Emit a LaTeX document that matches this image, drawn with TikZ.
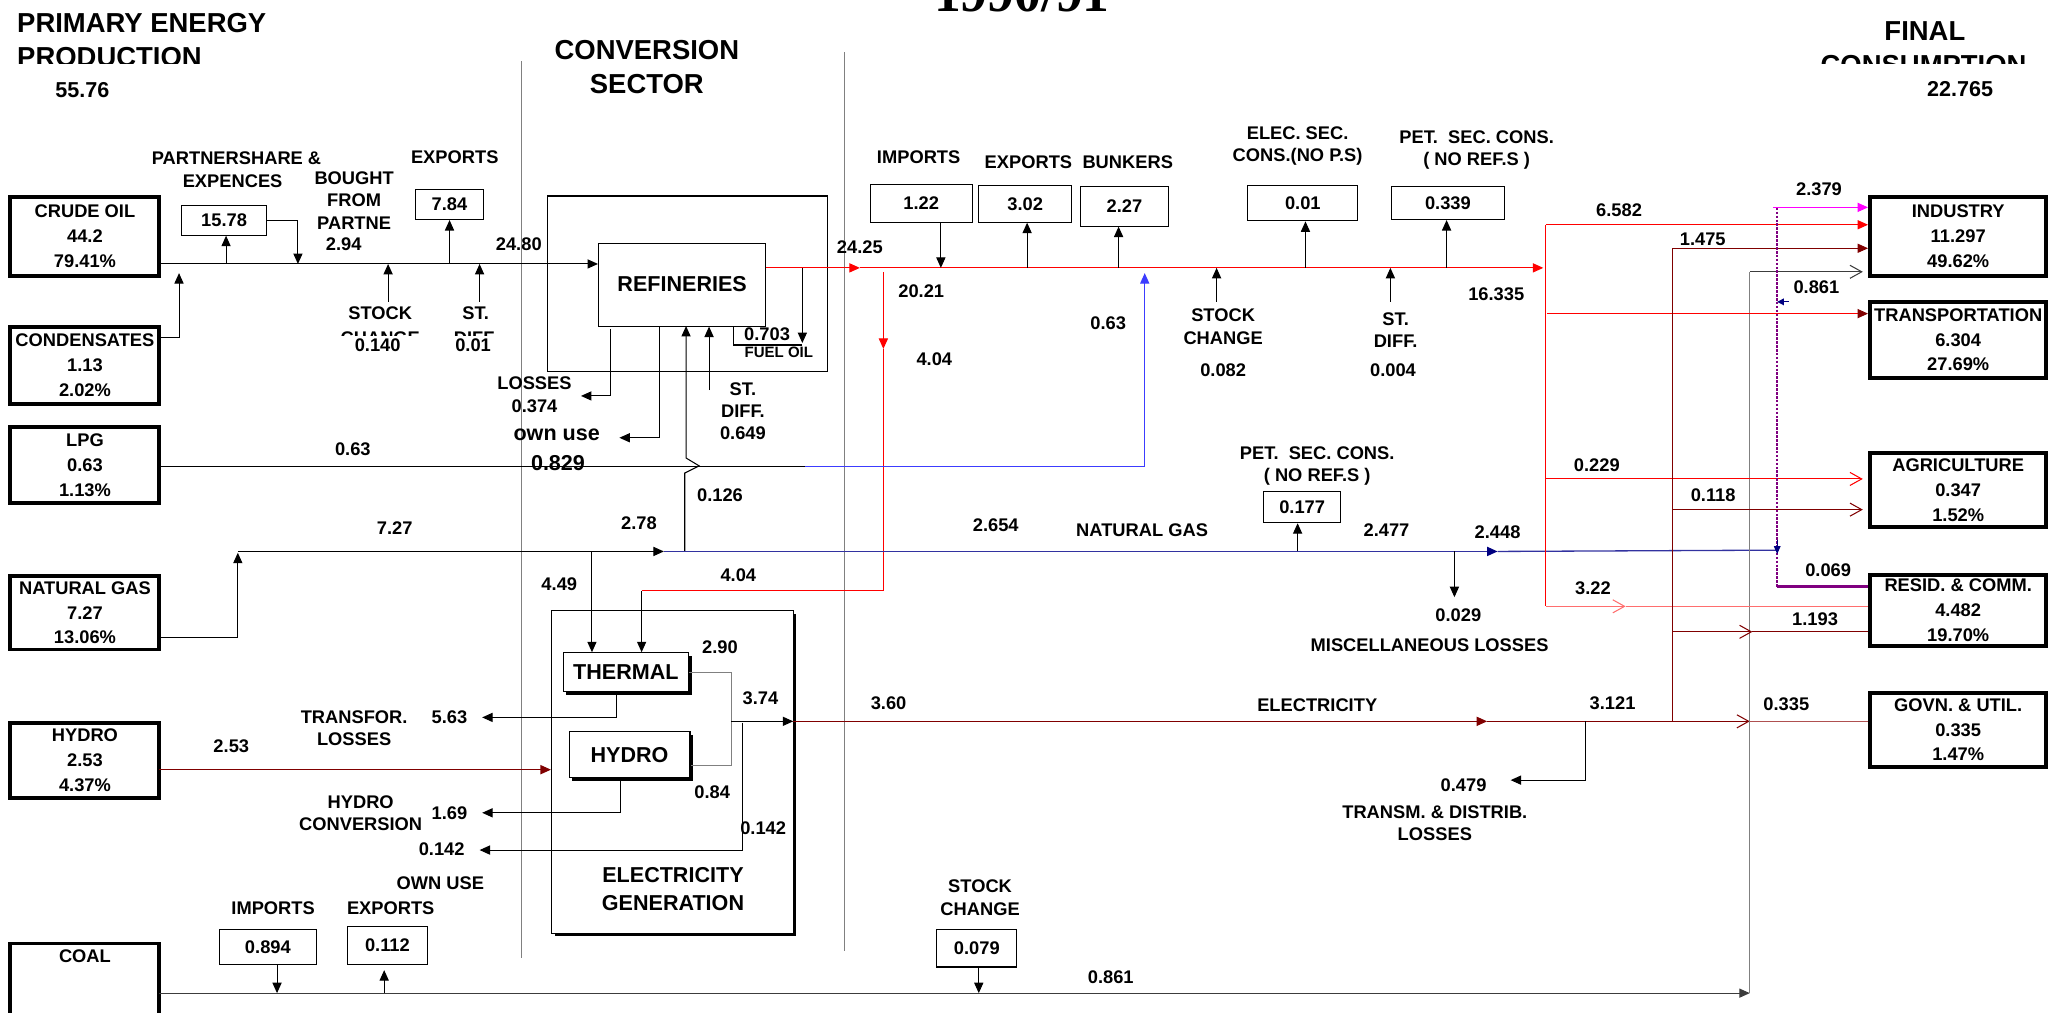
\documentclass[tikz,border=0pt]{standalone}
\usepackage{fontspec}
\setmainfont{Liberation Sans}
\newfontfamily\yearfont{Liberation Serif}
\usepackage{tikz}
\usetikzlibrary{arrows.meta,shadows}
\definecolor{oilred}{RGB}{255,0,0}
\definecolor{lightred}{RGB}{255,110,110}
\definecolor{elecred}{RGB}{128,0,0}
\definecolor{govnred}{RGB}{175,80,80}
\definecolor{gasblue}{RGB}{50,50,160}
\definecolor{lpgblue}{RGB}{60,60,255}
\definecolor{navyblue}{RGB}{0,0,128}
\definecolor{divgray}{RGB}{128,128,128}
\definecolor{coalgray}{RGB}{60,60,60}
\definecolor{respurple}{RGB}{128,0,128}
\definecolor{indmagenta}{RGB}{255,0,255}
\newcommand{\flowfont}{\fontsize{14}{17}\selectfont\bfseries}
\newcommand{\headfont}{\fontsize{21}{26}\selectfont\bfseries}
\newcommand{\unitfont}{\fontsize{16.5}{21}\selectfont\bfseries}
\newcommand{\boxfont}{\fontsize{14}{19}\selectfont\bfseries}

\begin{document}
\begin{tikzpicture}[x=1pt, y=-1pt, >={Triangle[length=8pt,width=7pt]},
   every node/.style={font=\flowfont, inner sep=0pt},
   src/.style={draw, line width=3pt, minimum width=114pt, align=center, font=\boxfont},
   dst/.style={src, minimum width=135pt},
   val/.style={draw, line width=0.8pt},
   unit/.style={draw, line width=0.8pt, fill=white, font=\unitfont},
   shade/.style={drop shadow={shadow xshift=2.5pt, shadow yshift=-2.5pt, fill=black, opacity=1}},
   flow/.style={line width=0.8pt},
   gas/.style={line width=1pt, draw=gasblue},
   opn/.style={-{Straight Barb[length=9pt,width=10pt]}},
   divider/.style={draw=divgray, line width=1pt}]
  \useasboundingbox (0,0) rectangle (1568,775);

  \draw[divider] (399,47) -- (399,733);
  \draw[divider] (646,40) -- (646,728);

  % headings
  \node[font=\yearfont\fontsize{41}{44}\selectfont\bfseries, anchor=base] (year) at (782,9) {1990/91};
  \node[font=\headfont, anchor=west] (prim) at (13,18) {PRIMARY ENERGY};
  \begin{scope}
    \clip (0,0) rectangle (300,48.5);
    \node[font=\headfont, anchor=west] (prod) at (13,43.5) {PRODUCTION};
  \end{scope}
  \node[font=\unitfont] (ptotal) at (63,69) {55.76};
  \node[font=\headfont, align=center] (conv) at (495,51) {CONVERSION\\SECTOR};
  \node[font=\headfont] (final) at (1473,24) {FINAL};
  \begin{scope}
    \clip (1300,0) rectangle (1568,48.5);
    \node[font=\headfont] (cons) at (1472,50) {CONSUMPTION};
  \end{scope}
  \node[font=\unitfont] (ctotal) at (1500,68.5) {22.765};

  % sources and sinks
  \node[src, minimum height=61pt] (crude) at (65,181) {CRUDE OIL\\44.2\\79.41\%};
  \node[src, minimum height=59pt] (cond) at (65,279.5) {CONDENSATES\\1.13\\2.02\%};
  \node[src, minimum height=58pt] (lpg) at (65,356) {LPG\\0.63\\1.13\%};
  \node[src, minimum height=56pt] (ngas) at (65,469) {NATURAL GAS\\7.27\\13.06\%};
  \node[src, minimum height=58pt] (hydsrc) at (65,582) {HYDRO\\2.53\\4.37\%};
  \node[src, minimum height=80pt] (coal) at (65,762) {};
  \node[font=\boxfont] (coallbl) at (65,732) {COAL};
  \node[dst, minimum height=61pt] (industry) at (1498.5,181) {INDUSTRY\\11.297\\49.62\%};
  \node[dst, minimum height=58pt] (transport) at (1498.5,260) {TRANSPORTATION\\6.304\\27.69\%};
  \node[dst, minimum height=56pt] (agri) at (1498.5,375) {AGRICULTURE\\0.347\\1.52\%};
  \node[dst, minimum height=54pt] (resid) at (1498.5,467) {RESID. \& COMM.\\4.482\\19.70\%};
  \node[dst, minimum height=57pt] (govn) at (1498.5,558.5) {GOVN. \& UTIL.\\0.335\\1.47\%};

  % conversion units
  \node[draw, line width=0.8pt, minimum width=214pt, minimum height=134pt] (refframe) at (526,217) {};
  \node[unit, minimum width=128pt, minimum height=63.5pt] (ref) at (522,217.75) {REFINERIES};
  \node[draw, line width=0.8pt, fill=white, shade, minimum width=185pt, minimum height=246.5pt] (elecgen) at (514.5,590.75) {};
  \node[font=\unitfont, align=center] (elecgenlbl) at (515,680.5) {ELECTRICITY\\GENERATION};
  \node[unit, shade, minimum width=96pt, minimum height=30pt] (thermal) at (479,514.5) {THERMAL};
  \node[unit, shade, minimum width=92.5pt, minimum height=35pt] (hydro) at (481.75,577.5) {HYDRO};

  % value boxes
  \node[val, minimum width=65pt, minimum height=23pt] (pship) at (171.5,168.5) {15.78};
  \node[val, minimum width=52pt, minimum height=23pt] (exp1) at (344,156.5) {7.84};
  \node[val, minimum width=78pt, minimum height=29pt] (imp2) at (705,155.5) {1.22};
  \node[val, minimum width=71pt, minimum height=28pt] (exp2) at (784.5,156) {3.02};
  \node[val, minimum width=67pt, minimum height=30pt] (bunk) at (860.5,158) {2.27};
  \node[val, minimum width=84pt, minimum height=27pt] (esc) at (997,155.5) {0.01};
  \node[val, minimum width=86pt, minimum height=25pt] (psc1) at (1108,155.5) {0.339};
  \node[val, minimum width=59pt, minimum height=24pt] (psc2) at (996.5,388) {0.177};
  \node[val, minimum width=74pt, minimum height=27pt] (imp3) at (205,724.5) {0.894};
  \node[val, minimum width=61pt, minimum height=29pt] (exp3) at (296.5,723.5) {0.112};
  \node[val, minimum width=61pt, minimum height=29pt] (sc3) at (747.5,725.5) {0.079};

  % labels
  \node (lps1) at (181,121) {PARTNERSHARE \&};
  \node (lps2) at (178,139) {EXPENCES};
  \node[align=center] (lbgt) at (271,153.5) {BOUGHT\\FROM\\PARTNE};
  \node (l294) at (263,187) {2.94};
  \node (lexp1) at (348,120) {EXPORTS};
  \node (l2480) at (397,187) {24.80};
  \node (lsc1) at (291,240) {STOCK};
  \node (lsd1) at (364,240) {ST.};
  \begin{scope}
    \clip (250,245) rectangle (400,257);
    \node (lsc1b) at (291,259) {CHANGE};
    \node (lsd1b) at (364,259) {DIFF.};
  \end{scope}
  \node (l0140) at (289,264) {0.140};
  \node (l001) at (362,264) {0.01};
  \node (l063a) at (270,344) {0.63};
  \node (l727) at (302,404) {7.27};
  \node (l278) at (489,400) {2.78};
  \node (l449) at (428,447) {4.49};
  \node (l0126) at (551,379) {0.126};
  \node (lloss) at (409,293) {LOSSES};
  \node (l0374) at (409,311) {0.374};
  \node[font=\unitfont] (lown) at (426,333) {own use};
  \node[font=\unitfont] (l0829) at (427,354) {0.829};
  \node[align=center] (lsd2) at (568.5,314.5) {ST.\\DIFF.\\0.649};
  \node (l0703) at (587,256) {0.703};
  \node[font=\fontsize{11.5}{13}\selectfont\bfseries] (lfuel) at (596,270) {FUEL OIL};
  \node (l2425) at (658,189) {24.25};
  \node (l2021) at (705,223) {20.21};
  \node (l404a) at (715,275) {4.04};
  \node (l063b) at (848,247) {0.63};
  \node (limp2) at (703,120) {IMPORTS};
  \node (lexp2) at (787,124) {EXPORTS};
  \node (lbunk) at (863,124) {BUNKERS};
  \node[align=center] (lesc) at (993,112) {ELEC. SEC.\\CONS.(NO P.S)};
  \node[align=center] (lpsc1) at (1130,115) {PET.\ \ SEC. CONS.\\( NO REF.S )};
  \node[align=center] (lsc2) at (936,250) {STOCK\\CHANGE};
  \node (l0082) at (936,283) {0.082};
  \node[align=center] (lsd3) at (1068,252.5) {ST.\\DIFF.};
  \node (l0004) at (1066,283) {0.004};
  \node (l16335) at (1145,225) {16.335};
  \node[align=center] (lpsc2) at (1008,356.5) {PET.\ \ SEC. CONS.\\( NO REF.S )};
  \node (l2654) at (762,402) {2.654};
  \node (lng) at (874,406) {NATURAL GAS};
  \node (l2477) at (1061,406) {2.477};
  \node (l2448) at (1146,407) {2.448};
  \node (l0029) at (1116,471) {0.029};
  \node (lmisc) at (1094,494) {MISCELLANEOUS LOSSES};
  \node (l404b) at (565,440) {4.04};
  \node (l290) at (551,495) {2.90};
  \node (l374) at (582,534) {3.74};
  \node (l084) at (545,606) {0.84};
  \node (l0142a) at (584,634) {0.142};
  \node (l360) at (680,538) {3.60};
  \node (lelec) at (1008,540) {ELECTRICITY};
  \node (l3121) at (1234,538) {3.121};
  \node (l0479) at (1120,601) {0.479};
  \node[align=center] (ltd) at (1098,630) {TRANSM. \& DISTRIB.\\LOSSES};
  \node[align=center] (ltl) at (271,557.5) {TRANSFOR.\\LOSSES};
  \node (l563) at (344,549) {5.63};
  \node[align=center] (lhc) at (276,622.5) {HYDRO\\CONVERSION};
  \node (l169) at (344,622) {1.69};
  \node (l0142b) at (338,650) {0.142};
  \node (lownu) at (337,676) {OWN USE};
  \node (l253) at (177,571) {2.53};
  \node (limp3) at (209,695) {IMPORTS};
  \node (lexp3) at (299,695) {EXPORTS};
  \node[align=center] (lsc3) at (750,687) {STOCK\\CHANGE};
  \node (l0861a) at (850,748) {0.861};
  \node (l2379) at (1392,145) {2.379};
  \node (l6582) at (1239,161) {6.582};
  \node (l1475) at (1303,183) {1.475};
  \node (l0861b) at (1390,220) {0.861};
  \node (l0229) at (1222,356) {0.229};
  \node (l0118) at (1311,379) {0.118};
  \node (l0069) at (1399,436) {0.069};
  \node (l322) at (1219,450) {3.22};
  \node (l1193) at (1389,474) {1.193};
  \node (l0335) at (1367,539) {0.335};

  % crude oil
  \coordinate (crout) at (122,202);
  \draw[flow,->] (crout) -- (ref.west |- crout);
  \coordinate (psup) at (173,202);
  \draw[flow,->] (psup) -- (psup |- pship.south);
  \coordinate (bgtin) at (228,202);
  \draw[flow,->] (pship.east) -| (bgtin);
  \coordinate (exup1) at (344,202);
  \draw[flow,->] (exup1) -- (exup1 |- exp1.south);
  \coordinate (cdout) at (122,258);
  \coordinate (cdin) at (137,209);
  \draw[flow,->] (cdout) -| (cdin);
  \coordinate (scin1) at (297,231);
  \draw[flow,->] (scin1) -- (scin1 |- crout);
  \coordinate (sdin1) at (367,231);
  \draw[flow,->] (sdin1) -- (sdin1 |- crout);

  % refineries
  \coordinate (refout) at (586,205);
  \coordinate (oilin) at (658,205);
  \draw[flow,oilred,->] (refout) -- (oilin);
  \coordinate (fuelin) at (614,262.5);
  \draw[flow,->] (fuelin |- refout) -- (fuelin);
  \coordinate (fuelbr) at (561,264);
  \draw[flow] (fuelbr |- ref.south) -- (fuelbr) -- (fuelbr -| fuelin);
  \coordinate (lossdn) at (467.5,252);
  \coordinate (lossout) at (444.6,303);
  \draw[flow,->] (lossdn) |- (lossout);
  \coordinate (owndn) at (505,249.5);
  \coordinate (ownout) at (474,335);
  \draw[flow,->] (owndn) |- (ownout);
  \coordinate (sdin2) at (542.6,298.5);
  \draw[flow,->] (sdin2) -- (sdin2 |- ref.south);
  \coordinate (ngref) at (524,422);
  \coordinate (ngrefin) at (525,249.5);
  \draw[flow,->] (ngref) -- ++(0,-60) -- ++(11,-5.5) -- ++(-10,-6) -- (ngrefin);

  % petroleum products
  \coordinate (oilsplit) at (1181,205);
  \draw[flow,oilred,->] (oilin) -- (oilsplit);
  \coordinate (impdn) at (720,205);
  \draw[flow,->] (impdn |- imp2.south) -- (impdn);
  \coordinate (exup2) at (786,205);
  \draw[flow,->] (exup2) -- (exup2 |- exp2.south);
  \coordinate (bkup) at (856,205);
  \draw[flow,->] (bkup) -- (bkup |- bunk.south);
  \coordinate (escup) at (999,205);
  \draw[flow,->] (escup) -- (escup |- esc.south);
  \coordinate (pscup) at (1107,205);
  \draw[flow,->] (pscup) -- (pscup |- psc1.south);
  \coordinate (scin2) at (931,231);
  \draw[flow,->] (scin2) -- (scin2 |- oilsplit);
  \coordinate (sdin3) at (1064,231);
  \draw[flow,->] (sdin3) -- (sdin3 |- oilsplit);
  \coordinate (thdn) at (676,208);
  \coordinate (thmid) at (676,267);
  \coordinate (thcorner) at (676,452);
  \coordinate (thin2) at (491,452);
  \draw[flow,oilred,->] (thdn) -- (thmid);
  \draw[flow,oilred] (thmid) -- (thcorner) -- (thin2);
  \draw[flow,->] (thin2) -- (thin2 |- thermal.north);

  % lpg
  \coordinate (lpgout) at (122,357);
  \coordinate (lpgmid) at (616,357);
  \coordinate (lpgin) at (876,209);
  \draw[flow] (lpgout) -- (lpgmid);
  \draw[flow,lpgblue,->] (lpgmid) -| (lpgin);

  % natural gas
  \coordinate (ngout) at (122,488);
  \coordinate (ngup) at (182,423);
  \draw[flow,->] (ngout) -| (ngup);
  \coordinate (ngcorner) at (182,422);
  \coordinate (ngjoin) at (508,422);
  \draw[flow,->] (ngcorner) -- (ngjoin);
  \coordinate (ngarr) at (1146,422);
  \coordinate (gasend) at (1360,421);
  \draw[gas,-{Triangle[length=8pt,width=7pt,color=navyblue]}] (ngjoin) -- (ngarr);
  \draw[gas] (ngarr) -- (gasend);
  \coordinate (thin1) at (453,422);
  \draw[flow,->] (thin1) -- (thin1 |- thermal.north);
  \coordinate (miscdn) at (1113,422);
  \coordinate (miscout) at (1113,457);
  \draw[flow,->] (miscdn) -- (miscout);
  \coordinate (pscup2) at (993,422);
  \draw[flow,->] (pscup2) -- (pscup2 |- psc2.south);

  % electricity generation
  \coordinate (hyout) at (122,589);
  \draw[flow,elecred,->] (hyout) -- (hyout -| elecgen.west);
  \coordinate (busbot) at (559.5,586);
  \draw[flow,divgray] (thermal.east) -| (busbot) -- (busbot -| hydro.east);
  \coordinate (genbus) at (559.5,552);
  \coordinate (genout) at (607,552);
  \draw[flow,->] (genbus) -- (genout);
  \coordinate (thlossdn) at (472,529.5);
  \coordinate (thloss) at (369,549);
  \draw[flow,->] (thlossdn) |- (thloss);
  \coordinate (hylossdn) at (475,595);
  \coordinate (hyloss) at (369,622);
  \draw[flow,->] (hylossdn) |- (hyloss);
  \coordinate (owntop) at (568,553);
  \coordinate (ownloss) at (367,650.5);
  \draw[flow,->] (owntop) |- (ownloss);

  % electricity
  \coordinate (elarr) at (1138,552);
  \coordinate (elsplit) at (1280,552);
  \coordinate (elopen) at (1339,552);
  \draw[flow,elecred,->] (genout) -- (elarr);
  \draw[flow,elecred,opn] (elarr) -- (elopen);
  \draw[flow,govnred] (elopen) -- (elopen -| govn.west);
  \coordinate (tdtap) at (1213,552);
  \coordinate (tdloss) at (1156,597);
  \draw[flow,->] (tdtap) |- (tdloss);

  % coal
  \coordinate (coalout) at (122,760);
  \coordinate (coalin) at (1339,760);
  \draw[flow,coalgray,->] (coalout) -- (coalin);
  \coordinate (impdn3) at (212,760);
  \draw[flow,->] (impdn3 |- imp3.south) -- (impdn3);
  \coordinate (exup3) at (294,760);
  \draw[flow,->,shorten >=4pt] (exup3) -- (exup3 |- exp3.south);
  \coordinate (scdn3) at (749,760);
  \draw[flow,->] (scdn3 |- sc3.south) -- (scdn3);
  \coordinate (coaltop) at (1339,208);
  \draw[flow,divgray] (coalin) -- (coaltop);
  \draw[flow,coalgray,opn,shorten >=4pt] (coaltop) -- (coaltop -| industry.west);

  % final consumption
  \coordinate (oiltop) at (1183,172);
  \coordinate (oilbot) at (1183,464);
  \draw[flow,oilred] (oiltop) -- (oilbot);
  \draw[flow,oilred,->] (oiltop) -- (oiltop -| industry.west);
  \coordinate (trout) at (1184,240);
  \draw[flow,oilred,-{Triangle[length=8pt,width=7pt,color=elecred]}] (trout) -- (trout -| transport.west);
  \coordinate (agout) at (1183,366.5);
  \draw[flow,oilred,opn,shorten >=4pt] (agout) -- (agout -| agri.west);
  \coordinate (rcmid) at (1244,464);
  \draw[flow,lightred,opn] (oilbot) -- (rcmid);
  \draw[flow,lightred] (rcmid) -- (rcmid -| resid.west);
  \coordinate (eltop) at (1280,190);
  \draw[flow,elecred] (eltop) -- (elsplit);
  \draw[flow,elecred,->] (eltop) -- (eltop -| industry.west);
  \coordinate (elag) at (1280,390);
  \draw[flow,elecred,opn,shorten >=4pt] (elag) -- (elag -| agri.west);
  \coordinate (elrc) at (1280,483.5);
  \coordinate (elrcmid) at (1341,483.5);
  \draw[flow,elecred,opn] (elrc) -- (elrcmid);
  \draw[flow,elecred] (elrcmid) -- (elrcmid -| resid.west);
  \coordinate (magstart) at (1357,158.7);
  \draw[flow,indmagenta,->] (magstart) -- (magstart -| industry.west);
  \coordinate (purtop) at (1360,159);
  \coordinate (purbot) at (1360,449);
  \draw[respurple, line width=1.5pt, dash pattern=on 2pt off 1pt] (purtop) -- (purbot);
  \draw[respurple, line width=2.5pt] (purbot) -- (purbot -| resid.west);
  \draw[navyblue, line width=0.8pt, -{Triangle[length=6pt,width=5pt]}] ([yshift=8pt]gasend) -- ([yshift=-3pt]gasend);
  \coordinate (purmark) at (1360,231);
  \draw[navyblue, line width=0.8pt, -{Triangle[length=5pt,width=5pt]}] ([xshift=9pt]purmark) -- (purmark);
\end{tikzpicture}
\end{document}
